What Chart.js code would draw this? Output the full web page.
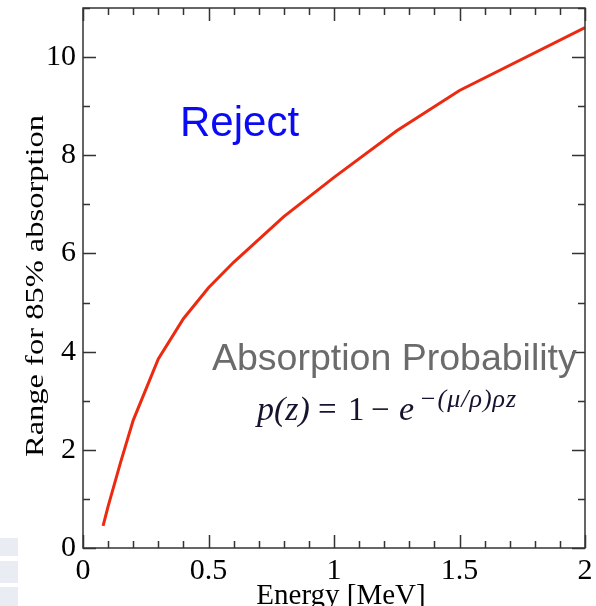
<!DOCTYPE html>
<html>
<head>
<meta charset="utf-8">
<script src="https://cdn.jsdelivr.net/npm/chart.js@4.4.1/dist/chart.umd.min.js"></script>
<style>
  html, body { margin: 0; padding: 0; background: #ffffff; }
  #wrap { width: 596px; height: 606px; position: relative; }
</style>
</head>
<body>
<div id="wrap"><canvas id="rangeChart" width="596" height="606"></canvas></div>
<script>
// photon energy [MeV] and range for 85% absorption
const energy = [0.08, 0.1, 0.15, 0.2, 0.3, 0.4, 0.5, 0.6, 0.8, 1.0, 1.25, 1.5, 2.0];
const range = [0.45, 0.85, 1.75, 2.6, 3.85, 4.67, 5.3, 5.82, 6.75, 7.55, 8.5, 9.32, 10.6];

const xTitle = 'Energy [MeV]';
const yTitle = 'Range for 85% absorption';

const serif = "'Liberation Serif', 'Times New Roman', serif";
const sans = "'Liberation Sans', Arial, sans-serif";

// frame, inside ticks and the slide text on top of the plot
const decorPlugin = {
  id: 'decor',
  beforeDraw(chart) {
    const c = chart.ctx;
    c.save();
    // pale slide boxes at bottom left
    c.fillStyle = '#e9edf3';
    c.fillRect(0, 538, 18, 18);
    c.fillRect(0, 561, 18, 22);
    c.fillRect(0, 587, 18, 19);
    c.restore();
  },
  afterDraw(chart) {
    const c = chart.ctx;
    const a = chart.chartArea;
    const xs = chart.scales.x;
    const ys = chart.scales.y;
    c.save();
    c.strokeStyle = '#333333';
    c.lineWidth = 1.5;
    c.strokeRect(a.left, a.top, a.right - a.left, a.bottom - a.top);

    c.beginPath();
    for (let i = 0; i <= 20; i++) {
      const v = i / 10;
      const px = Math.round(xs.getPixelForValue(v)) + 0.5;
      const len = i % 5 === 0 ? 13 : 7;
      c.moveTo(px, a.bottom); c.lineTo(px, a.bottom - len);
      c.moveTo(px, a.top); c.lineTo(px, a.top + len);
    }
    for (let v = 0; v <= 11; v++) {
      const py = Math.round(ys.getPixelForValue(v)) + 0.5;
      const len = v % 2 === 0 ? 13 : 7;
      c.moveTo(a.left, py); c.lineTo(a.left + len, py);
      c.moveTo(a.right, py); c.lineTo(a.right - len, py);
    }
    c.stroke();

    // axis titles
    c.fillStyle = '#000000';
    c.font = '29px ' + serif;
    c.textAlign = 'center';
    c.textBaseline = 'alphabetic';
    c.fillText(xTitle, (a.left + a.right) / 2 + 7, 604);

    c.save();
    c.translate(43, 286);
    c.rotate(-Math.PI / 2);
    c.scale(1.3, 1);
    c.font = '25px ' + serif;
    c.fillText(yTitle, 0, 0);
    c.restore();

    // slide annotations
    c.textAlign = 'left';
    c.fillStyle = '#0a0af5';
    c.font = '42px ' + sans;
    c.fillText('Reject', 180, 136);

    c.fillStyle = '#6b6b6b';
    c.font = '37.5px ' + sans;
    c.fillText('Absorption Probability', 212, 370);

    c.fillStyle = '#14142e';
    c.font = 'italic 34px ' + serif;
    c.fillText('p(z)', 257, 420);
    c.font = '33px ' + serif;
    c.fillText('=', 318, 420);
    c.fillText('1', 348, 420);
    c.fillText('\u2212', 371, 420);
    c.font = 'italic 34px ' + serif;
    c.fillText('e', 399, 420);
    c.font = 'italic 26px ' + serif;
    c.letterSpacing = '1px';
    c.fillText('\u2212(\u03bc/\u03c1)\u03c1z', 419, 407);
    c.restore();
  }
};

const ctx = document.getElementById('rangeChart').getContext('2d');

new Chart(ctx, {
  type: 'line',
  data: {
    datasets: [{
      label: 'Range',
      data: energy.map((e, i) => ({ x: e, y: range[i] })),
      borderColor: '#ec2a10',
      borderWidth: 3,
      pointRadius: 0,
      tension: 0,
      fill: false
    }]
  },
  options: {
    responsive: false,
    animation: false,
    layout: {
      autoPadding: false,
      padding: { left: 0, right: 11, top: 8, bottom: 0 }
    },
    scales: {
      x: {
        type: 'linear',
        min: 0,
        max: 2,
        grid: { display: false, drawTicks: false },
        border: { display: false },
        ticks: {
          stepSize: 0.5,
          padding: 5,
          color: '#000000',
          font: { family: serif, size: 30 },
          maxRotation: 0,
          callback: (v) => String(+v.toFixed(1))
        },
        afterFit(scale) {
          scale.height = 58;
          scale.paddingLeft = 0;
          scale.paddingRight = 0;
        }
      },
      y: {
        min: 0,
        max: 11,
        grid: { display: false, drawTicks: false },
        border: { display: false },
        ticks: {
          stepSize: 2,
          includeBounds: false,
          padding: 7,
          color: '#000000',
          font: { family: serif, size: 30 }
        },
        afterFit(scale) {
          scale.width = 83;
          scale.paddingTop = 0;
          scale.paddingBottom = 0;
        }
      }
    },
    plugins: {
      legend: { display: false },
      tooltip: { enabled: false }
    }
  },
  plugins: [decorPlugin]
});
</script>
</body>
</html>
